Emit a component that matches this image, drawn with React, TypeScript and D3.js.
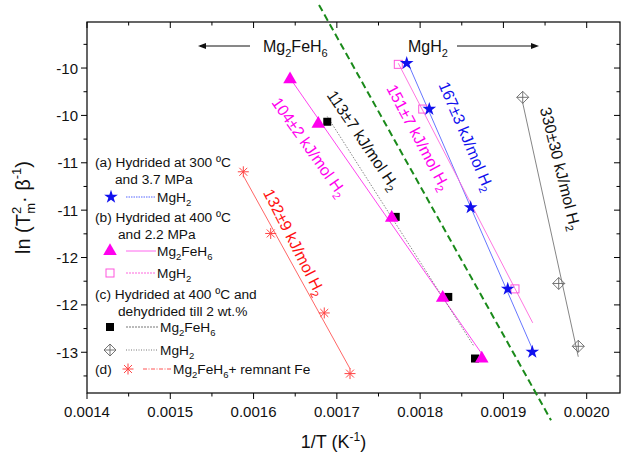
import React from 'react';
import * as d3 from 'd3';

// ---------- data ----------
const xTickValues = [0.0014, 0.0015, 0.0016, 0.0017, 0.0018, 0.0019, 0.002];
const xTickLabels = ['0.0014', '0.0015', '0.0016', '0.0017', '0.0018', '0.0019', '0.0020'];
const xMinorTicks = [0.00145, 0.00155, 0.00165, 0.00175, 0.00185, 0.00195];
const yTickValues = [-10, -10.5, -11, -11.5, -12, -12.5, -13];
const yTickLabels = ['-10', '-10', '-11', '-11', '-12', '-12', '-13'];
const yMinorTicks = [-9.75, -10.25, -10.75, -11.25, -11.75, -12.25, -12.75, -13.25];

// (a) MgH2, hydrided at 300 C / 3.7 MPa
const aMgH2X = [0.0017839, 0.001811, 0.0018607, 0.0019052, 0.0019347];
const aMgH2Y = [-9.95, -10.433, -11.471, -12.331, -12.997];
// (b) Mg2FeH6
const bFeX = [0.0016438, 0.0016777, 0.0017659, 0.0018271, 0.001874];
const bFeY = [-10.109, -10.578, -11.571, -12.416, -13.056];
// (b) MgH2
const bMgH2X = [0.0017738, 0.0018031, 0.0019139];
const bMgH2Y = [-9.961, -10.433, -12.331];
// (c) Mg2FeH6
const cFeX = [0.0016885, 0.0017707, 0.0018338, 0.0018659];
const cFeY = [-10.567, -11.571, -12.416, -13.066];
// (c) MgH2
const cMgH2X = [0.0019232, 0.0019664, 0.0019899];
const cMgH2Y = [-10.309, -12.274, -12.937];
// (d) Mg2FeH6 + remnant Fe
const dX = [0.0015877, 0.0016206, 0.0016849, 0.0017158];
const dY = [-11.095, -11.746, -12.585, -13.225];

// fitted line x-extents
const aFitRange = [0.0017839, 0.0019347];
const bFeFitRange = [0.0016438, 0.001874];
const bMgH2FitRange = [0.0017738, 0.0019352];
const cFeFitRange = [0.0016885, 0.001864];
const cMgH2FitRange = [0.0019232, 0.0019899];
const dFitRange = [0.0015877, 0.0017158];

// green divider
const dividerX = [0.0016786, 0.0019572];
const dividerY = [-9.3345, -13.718];

const energies = ['104±2', '113±7', '132±9', '151±7', '167±3', '330±30'];

// ---------- layout ----------
const W = 622, H = 462;
const L = 87, R = 620, T = 22, B = 393;
const FONT = "'Liberation Sans', Arial, sans-serif";

const x = d3.scaleLinear().domain([0.0014, 0.00204]).range([L, R]);
const y = d3.scaleLinear().domain([-13.43, -9.514]).range([B, T]);

function fit(xs: number[], ys: number[]) {
  const mx = d3.mean(xs)!, my = d3.mean(ys)!;
  let sxy = 0, sxx = 0;
  xs.forEach((v, i) => { sxy += (v - mx) * (ys[i] - my); sxx += (v - mx) * (v - mx); });
  const k = sxy / sxx;
  return (v: number) => my + k * (v - mx);
}

function FitLine({ xs, ys, range, ...rest }: any) {
  const f = fit(xs, ys);
  const line = d3.line<number>().x(v => x(v)).y(v => y(f(v)));
  return <path d={line(range) || ''} fill="none" {...rest} />;
}

const Star = ({ cx, cy }: any) => (
  <path transform={`translate(${cx},${cy})`} d={d3.symbol(d3.symbolStar, 58)() || ''} fill="#1010ee" />
);
const Tri = ({ cx, cy }: any) => (
  <path transform={`translate(${cx},${cy + 1})`} d={d3.symbol(d3.symbolTriangle, 80)() || ''} fill="#ff00ee" />
);
const OpenSq = ({ cx, cy }: any) => (
  <rect x={cx - 4} y={cy - 4} width={8} height={8} fill="none" stroke="#ff55dd" strokeWidth={1} />
);
const FillSq = ({ cx, cy }: any) => (
  <rect x={cx - 4} y={cy - 4} width={8} height={8} fill="#000" />
);
const Diamond = ({ cx, cy }: any) => (
  <g stroke="#666" strokeWidth={0.9} fill="none">
    <path d={`M${cx},${cy - 6}L${cx + 6},${cy}L${cx},${cy + 6}L${cx - 6},${cy}Z`} />
    <path d={`M${cx},${cy - 6}V${cy + 6}M${cx - 6},${cy}H${cx + 6}`} />
  </g>
);
const Aster = ({ cx, cy }: any) => {
  const r = 5.5, d = r * 0.72;
  return (
    <path stroke="#ff4444" strokeWidth={1} fill="none"
      d={`M${cx},${cy - r}V${cy + r}M${cx - r},${cy}H${cx + r}M${cx - d},${cy - d}L${cx + d},${cy + d}M${cx - d},${cy + d}L${cx + d},${cy - d}`} />
  );
};

// parts alternate: normal, subscript, normal, subscript ...
function chem(parts: string[], size: number, d: number) {
  return parts.map((p, i) =>
    i % 2 === 1
      ? <tspan key={i} dy={d} fontSize={size}>{p}</tspan>
      : <tspan key={i} dy={i === 0 ? 0 : -d}>{p}</tspan>
  );
}

function Energy({ cx, cy, angle, color, text }: any) {
  return (
    <text transform={`translate(${cx},${cy}) rotate(${angle})`} textAnchor="middle" dominantBaseline="middle"
      fontSize={16} fill={color} fontFamily={FONT}>
      {chem([`${text} kJ/mol H`, '2'], 11, 5)}
    </text>
  );
}

export default function App() {
  const leg = { fontSize: 13.7, fontFamily: FONT, fill: '#111' } as any;
  return (
    <svg width={W} height={H} style={{ position: 'absolute', left: 0, top: 0, background: '#fff' }}>
      <rect width={W} height={H} fill="#fff" />
      {/* frame */}
      <rect x={L} y={T} width={R - L} height={B - T} fill="none" stroke="#000" strokeWidth={1.2} />
      {/* x ticks */}
      {xTickValues.map((v, i) => (
        <g key={'xt' + i}>
          <line x1={x(v)} x2={x(v)} y1={B} y2={B + 6} stroke="#000" />
          <line x1={x(v)} x2={x(v)} y1={T} y2={T + 6} stroke="#000" />
          <text x={x(v)} y={B + 24} textAnchor="middle" fontSize={15} fontFamily={FONT} fill="#111">{xTickLabels[i]}</text>
        </g>
      ))}
      {xMinorTicks.map((v, i) => (
        <g key={'xm' + i}>
          <line x1={x(v)} x2={x(v)} y1={B} y2={B + 3.5} stroke="#000" />
          <line x1={x(v)} x2={x(v)} y1={T} y2={T + 3.5} stroke="#000" />
        </g>
      ))}
      {/* y ticks */}
      {yTickValues.map((v, i) => (
        <g key={'yt' + i}>
          <line x1={L - 6} x2={L} y1={y(v)} y2={y(v)} stroke="#000" />
          <line x1={R - 6} x2={R} y1={y(v)} y2={y(v)} stroke="#000" />
          <text x={L - 9} y={y(v)} textAnchor="end" dominantBaseline="central" fontSize={15} fontFamily={FONT} fill="#111">{yTickLabels[i]}</text>
        </g>
      ))}
      {yMinorTicks.map((v, i) => (
        <g key={'ym' + i}>
          <line x1={L - 3.5} x2={L} y1={y(v)} y2={y(v)} stroke="#000" />
          <line x1={R - 3.5} x2={R} y1={y(v)} y2={y(v)} stroke="#000" />
        </g>
      ))}
      {/* axis titles */}
      <text x={(L + R) / 2 - 20} y={448} textAnchor="middle" fontSize={18} fontFamily={FONT} fill="#111">
        1/T (K<tspan dy={-7} fontSize={12}>-1</tspan><tspan dy={7}>)</tspan>
      </text>
      <text transform={`translate(30,${(T + B) / 2}) rotate(-90)`} textAnchor="middle" fontSize={20} fontFamily={FONT} fill="#111">
        ln (T<tspan dy={-9} fontSize={13}>2</tspan><tspan dy={14} fontSize={13} dx={-7}>m</tspan><tspan dy={-5}>· β</tspan><tspan dy={-9} fontSize={13}>-1</tspan><tspan dy={9}>)</tspan>
      </text>

      {/* divider */}
      <line x1={x(dividerX[0])} y1={y(dividerY[0])} x2={x(dividerX[1])} y2={y(dividerY[1])}
        stroke="#1a8a1a" strokeWidth={2} strokeDasharray="7,4" />

      {/* top arrows */}
      <g fontFamily={FONT} fontSize={16} fill="#111">
        <line x1={250} x2={200} y1={46} y2={46} stroke="#111" strokeWidth={1} />
        <path d="M198,46 l8,-3 v6 z" fill="#111" />
        <text x={263} y={52}>{chem(['Mg', '2', 'FeH', '6'], 11, 5)}</text>
        <text x={408} y={52}>{chem(['MgH', '2'], 11, 5)}</text>
        <line x1={457} x2={532} y1={46} y2={46} stroke="#111" strokeWidth={1} />
        <path d="M539,46 l-8,-3 v6 z" fill="#111" />
      </g>

      {/* fitted lines */}
      <FitLine xs={aMgH2X} ys={aMgH2Y} range={aFitRange} stroke="#5566ff" strokeWidth={0.9} />
      <FitLine xs={bMgH2X} ys={bMgH2Y} range={bMgH2FitRange} stroke="#ff66dd" strokeWidth={0.9} />
      <FitLine xs={bFeX} ys={bFeY} range={bFeFitRange} stroke="#ff44ee" strokeWidth={1} />
      <FitLine xs={cFeX} ys={cFeY} range={cFeFitRange} stroke="#777" strokeWidth={0.9} strokeDasharray="1.5,1.5" />
      <FitLine xs={cMgH2X} ys={cMgH2Y} range={cMgH2FitRange} stroke="#777" strokeWidth={0.9} />
      <FitLine xs={dX} ys={dY} range={dFitRange} stroke="#ff5555" strokeWidth={0.9} />

      {/* markers */}
      {bMgH2X.map((v, i) => <OpenSq key={'bs' + i} cx={x(v)} cy={y(bMgH2Y[i])} />)}
      {aMgH2X.map((v, i) => <Star key={'a' + i} cx={x(v)} cy={y(aMgH2Y[i])} />)}
      {cFeX.map((v, i) => <FillSq key={'cf' + i} cx={x(v)} cy={y(cFeY[i])} />)}
      {bFeX.map((v, i) => <Tri key={'bf' + i} cx={x(v)} cy={y(bFeY[i])} />)}
      {cMgH2X.map((v, i) => <Diamond key={'cm' + i} cx={x(v)} cy={y(cMgH2Y[i])} />)}
      {dX.map((v, i) => <Aster key={'d' + i} cx={x(v)} cy={y(dY[i])} />)}

      {/* energy labels */}
      <Energy cx={308} cy={148} angle={54.7} color="#ff00ee" text={energies[0]} />
      <Energy cx={362} cy={141} angle={56} color="#111" text={energies[1]} />
      <Energy cx={293} cy={243} angle={63} color="#ff1111" text={energies[2]} />
      <Energy cx={417} cy={138} angle={62} color="#ff00ee" text={energies[3]} />
      <Energy cx={465} cy={137} angle={66.8} color="#1010ee" text={energies[4]} />
      <Energy cx={559} cy={169} angle={76} color="#111" text={energies[5]} />

      {/* legend */}
      <g {...leg}>
        <text x={95} y={167}>(a) Hydrided at 300 ºC</text>
        <text x={115} y={184}>and 3.7 MPa</text>
        <Star cx={111} cy={197} />
        <line x1={126} x2={156} y1={197} y2={197} stroke="#5566ff" strokeDasharray="1.5,1" />
        <text x={157} y={202}>{chem(['MgH', '2'], 9.5, 4)}</text>

        <text x={95} y={222}>(b) Hydrided at 400 ºC</text>
        <text x={118} y={239}>and 2.2 MPa</text>
        <Tri cx={110} cy={250} />
        <line x1={126} x2={156} y1={251} y2={251} stroke="#ff66ee" />
        <text x={157} y={256}>{chem(['Mg', '2', 'FeH', '6'], 9.5, 4)}</text>
        <OpenSq cx={110} cy={273} />
        <line x1={126} x2={156} y1={273} y2={273} stroke="#ff66dd" strokeDasharray="2,1" />
        <text x={157} y={278}>{chem(['MgH', '2'], 9.5, 4)}</text>

        <text x={95} y={299}>(c) Hydrided at 400 ºC and</text>
        <text x={118} y={316}>dehydrided till 2 wt.%</text>
        <FillSq cx={110} cy={327} />
        <line x1={126} x2={158} y1={327} y2={327} stroke="#777" strokeDasharray="2,1" />
        <text x={160} y={332}>{chem(['Mg', '2', 'FeH', '6'], 9.5, 4)}</text>
        <Diamond cx={110} cy={350} />
        <line x1={126} x2={158} y1={350} y2={350} stroke="#777" strokeDasharray="1,1.5" />
        <text x={160} y={355}>{chem(['MgH', '2'], 9.5, 4)}</text>

        <text x={95} y={374}>(d)</text>
        <Aster cx={128} cy={369} />
        <line x1={143} x2={172} y1={369} y2={369} stroke="#ff5555" strokeDasharray="4,1.5,1,1.5" />
        <text x={173} y={374}>{chem(['Mg', '2', 'FeH', '6', '+ remnant Fe'], 9.5, 4)}</text>
      </g>
    </svg>
  );
}
